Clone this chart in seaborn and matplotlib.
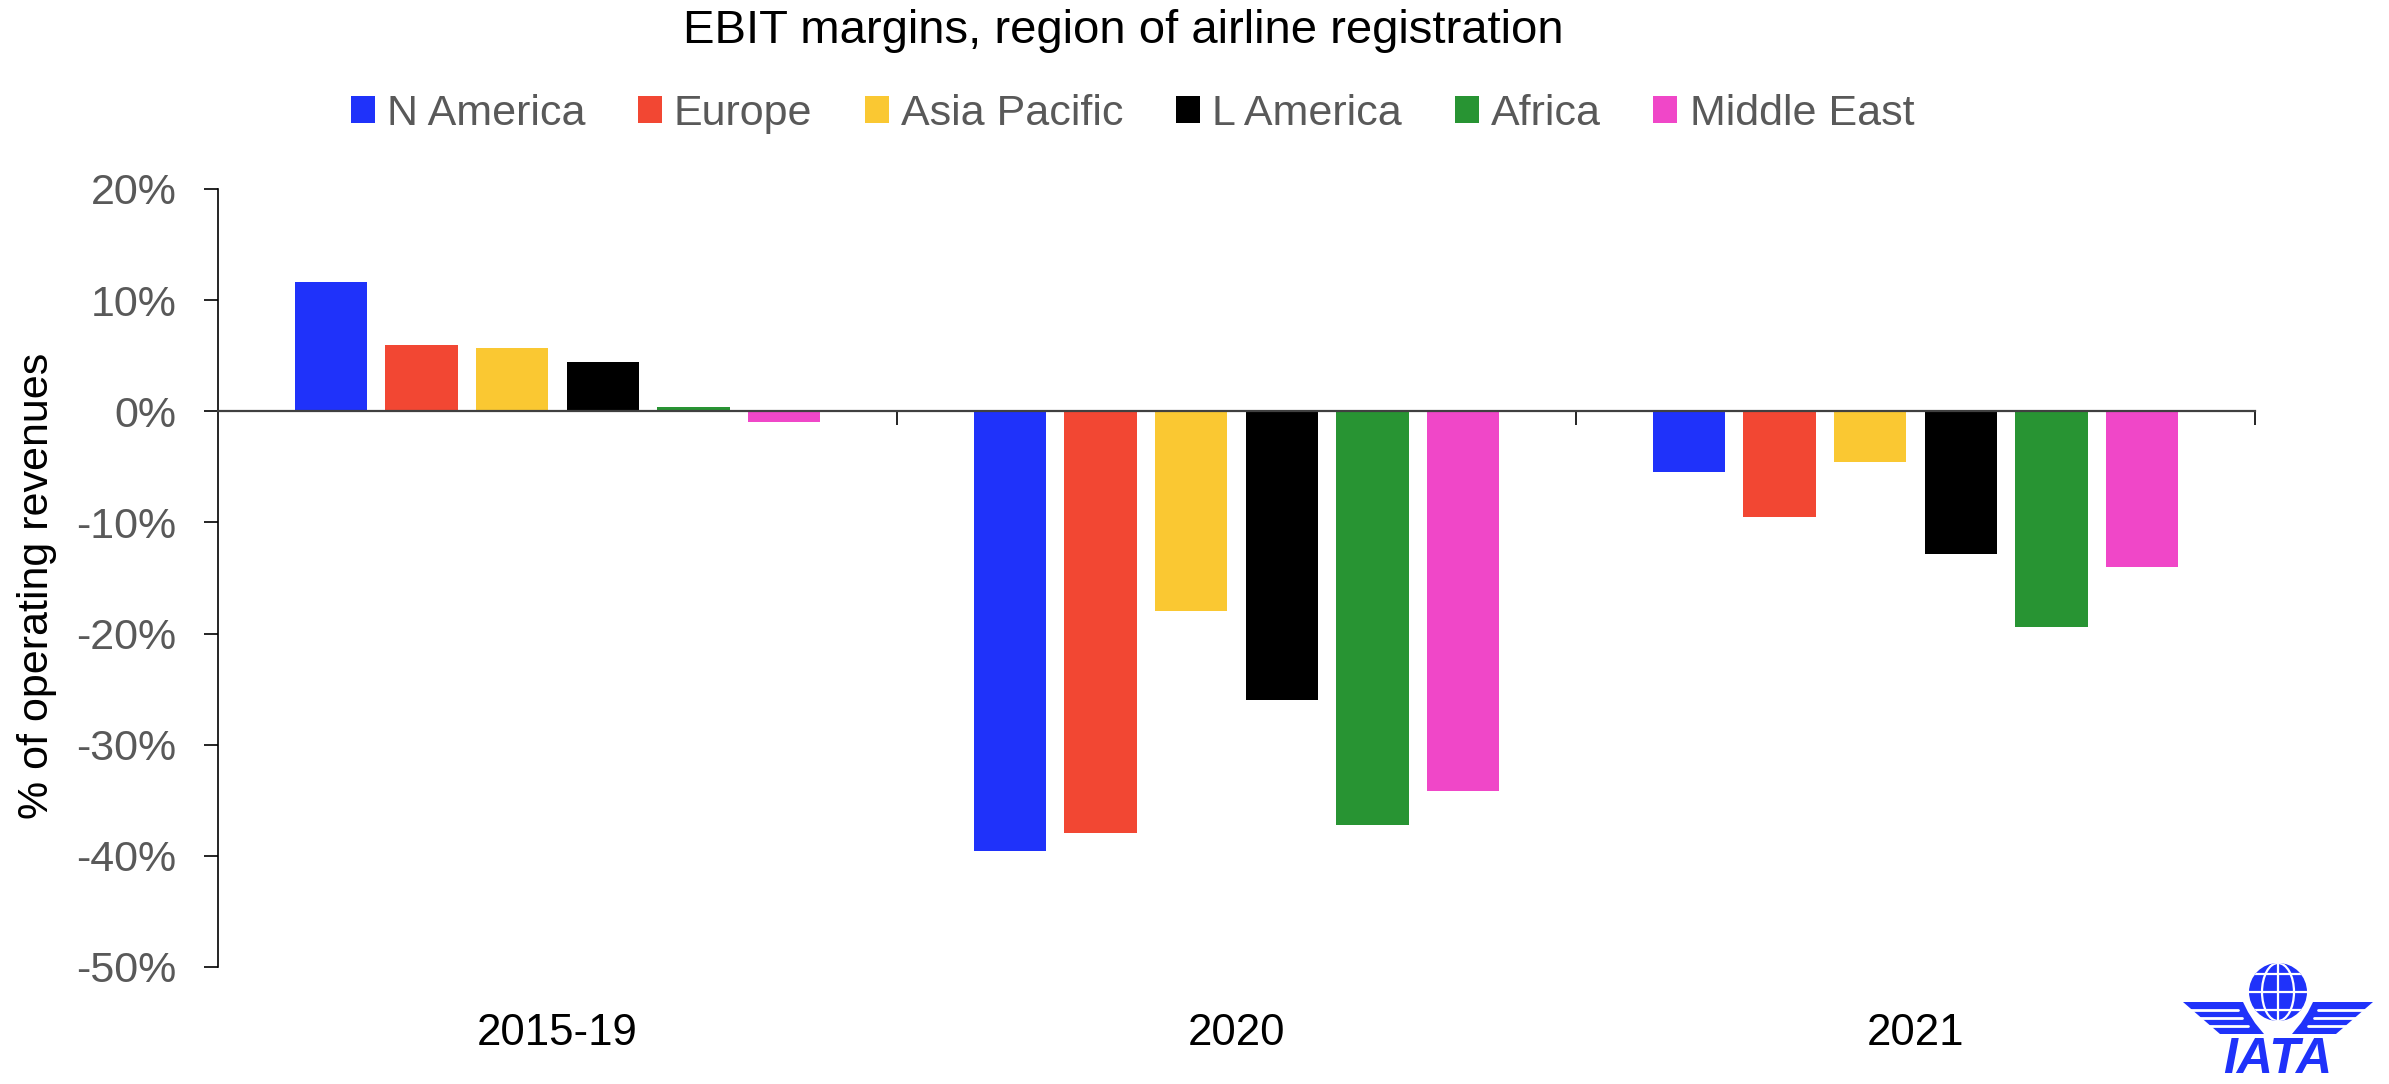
import numpy as np
import pandas as pd
import matplotlib
matplotlib.use("Agg")
import matplotlib.pyplot as plt
import seaborn as sns
from matplotlib.ticker import PercentFormatter, FixedLocator
from matplotlib.patches import Circle, Ellipse, Polygon

# data (EBIT margin, % of operating revenues)
periods = ["2015-19", "2020", "2021"]
regions = ["N America", "Europe", "Asia Pacific", "L America", "Africa", "Middle East"]
n_america = [11.6, -39.6, -5.5]
europe = [6.0, -37.9, -9.5]
asia_pacific = [5.7, -18.0, -4.6]
l_america = [4.45, -26.0, -12.8]
africa = [0.4, -37.2, -19.4]
middle_east = [-1.0, -34.2, -14.0]
y_ticks = [20, 10, 0, -10, -20, -30, -40, -50]

colors = ["#1F32FA", "#F24733", "#FAC832", "#000000", "#289433", "#F047C8"]
iata_blue = "#1F32FA"

series = [n_america, europe, asia_pacific, l_america, africa, middle_east]
rows = []
for reg, vals in zip(regions, series):
    for per, v in zip(periods, vals):
        rows.append({"period": per, "region": reg, "value": v})
df = pd.DataFrame(rows)

sns.set_style("white")
plt.rcParams["font.family"] = ["Liberation Sans", "DejaVu Sans"]
plt.rcParams["axes.unicode_minus"] = False

W, H = 2389, 1084
fig = plt.figure(figsize=(W / 100, H / 100), dpi=100)
ax = fig.add_axes([218 / W, 1 - 967 / H, (2255 - 218) / W, (967 - 189) / H])

sns.barplot(data=df, x="period", y="value", hue="region", order=periods,
            hue_order=regions, palette=colors, width=0.8, gap=0.2,
            saturation=1, errorbar=None, linewidth=0, ax=ax)

ax.set_xlim(-0.5, 2.5)
ax.set_ylim(-50, 20)
ax.yaxis.set_major_locator(FixedLocator(y_ticks))
ax.yaxis.set_major_formatter(PercentFormatter(xmax=100, decimals=0))
ax.tick_params(axis="y", direction="out", length=10, width=1.2, color="black",
               labelsize=31, labelcolor="#595959", pad=20, left=True)

# zero line with category boundary ticks
ax.spines["bottom"].set_position(("data", 0))
ax.spines["bottom"].set_color("#404040")
ax.spines["bottom"].set_linewidth(1.6)
ax.spines["left"].set_color("black")
ax.spines["left"].set_linewidth(1.2)
ax.spines["top"].set_visible(False)
ax.spines["right"].set_visible(False)
ax.set_xticks([0, 1, 2])
ax.xaxis.set_minor_locator(FixedLocator([0.5, 1.5, 2.5]))
ax.tick_params(axis="x", which="major", length=0, labelbottom=False)
ax.tick_params(axis="x", which="minor", direction="out", length=10, width=1.2,
               color="black", bottom=True)

sec = ax.secondary_xaxis(0)
sec.set_xticks([0, 1, 2])
sec.set_xticklabels(periods)
sec.tick_params(length=0, labelsize=31.5, labelcolor="black", pad=33)
sec.spines["bottom"].set_visible(False)

ax.set_xlabel("")
ax.set_ylabel("% of operating revenues", fontsize=31, color="black")
ax.yaxis.set_label_coords(-0.079, 0.49)

handles, labels = ax.get_legend_handles_labels()
ax.get_legend().remove()
fig.legend(handles, labels, ncol=6, loc="center", bbox_to_anchor=(0.474, 0.895),
           frameon=False, fontsize=31, labelcolor="#595959", handlelength=0.56,
           handleheight=0.56, handletextpad=0.28, columnspacing=1.22)

fig.text(0.47, 1 - 43 / H, "EBIT margins, region of airline registration",
         ha="center", va="baseline", fontsize=34, color="black")

# IATA logo, bottom right
lg = fig.add_axes([2150 / W, 0, 239 / W, 154 / H])
lg.set_xlim(0, 239)
lg.set_ylim(154, 0)
lg.axis("off")
left_wing = [(33, 72), (93, 72), (98, 82), (105, 93), (114, 104), (70, 104)]
for pts in (left_wing, [(256 - x, y) for x, y in left_wing]):
    lg.add_patch(Polygon(pts, closed=True, facecolor=iata_blue, edgecolor="none"))
for y, xe in [(80, 88), (88, 92), (96, 98)]:
    lg.plot([28, xe], [y, y], color="white", lw=2)
    lg.plot([256 - 28, 256 - xe], [y, y], color="white", lw=2)
lg.add_patch(Circle((128, 62), 34, facecolor="white", edgecolor="none"))
globe = Circle((128, 62), 29, facecolor=iata_blue, edgecolor="none")
lg.add_patch(globe)
mer = Ellipse((128, 62), 32, 58, fill=False, edgecolor="white", lw=1.6)
lg.add_patch(mer)
mer.set_clip_path(globe)
for xs, ys in [([128, 128], [30, 96]), ([95, 161], [62, 62]),
               ([95, 161], [44, 44]), ([95, 161], [80, 80])]:
    ln, = lg.plot(xs, ys, color="white", lw=1.6)
    ln.set_clip_path(globe)
lg.text(128, 153, "IATA", ha="center", va="bottom", fontsize=36, fontweight="bold",
        fontstyle="italic", color=iata_blue)

fig.savefig("out.png", dpi=100)
